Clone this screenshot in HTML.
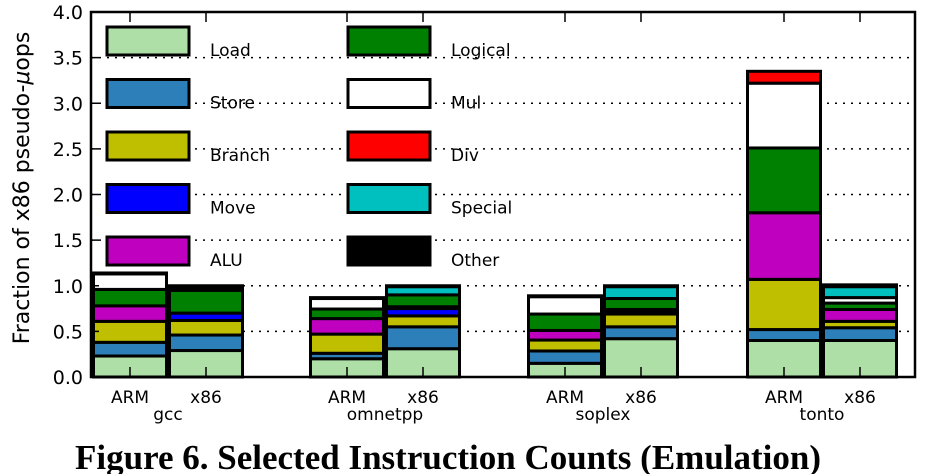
<!DOCTYPE html>
<html><head><meta charset="utf-8"><style>
html,body{margin:0;padding:0;background:#fff;width:944px;height:474px;overflow:hidden}
svg text{font-family:"DejaVu Sans","Liberation Sans",sans-serif}
</style></head><body>
<svg id="chart" width="944" height="474" xmlns="http://www.w3.org/2000/svg">
<g id="grid"></g>
<g id="bars"></g>
<g id="axes"></g>
<g id="legend"></g>
<text transform="translate(29,188) rotate(-90)" text-anchor="middle" font-size="22">Fraction of x86 pseudo-<tspan font-style="italic">μ</tspan>ops</text>
<text x="75" y="469" font-weight="bold" font-size="35" style="font-family:'Liberation Serif',serif">Figure 6. Selected Instruction Counts (Emulation)</text>
</svg>
<script>
const categories = ["gcc","omnetpp","soplex","tonto"];
const isas = ["ARM","x86"];
const seriesNames = ["Load","Store","Branch","Move","ALU","Logical","Mul","Div","Special","Other"];
const seriesColors = ["#addfa7","#2c7fb8","#bfbf00","#0000ff","#bf00bf","#008000","#ffffff","#ff0000","#00bfbf","#000000"];
const load   = [0.23,0.29, 0.20,0.31, 0.15,0.42, 0.40,0.40];
const store  = [0.15,0.17, 0.06,0.24, 0.135,0.13, 0.12,0.14];
const branch = [0.23,0.16, 0.21,0.12, 0.12,0.14, 0.55,0.07];
const move   = [0.00,0.08, 0.00,0.08, 0.00,0.02, 0.00,0.00];
const alu    = [0.17,0.00, 0.17,0.02, 0.105,0.03, 0.73,0.13];
const logical= [0.18,0.25, 0.105,0.13, 0.18,0.12, 0.71,0.07];
const mul    = [0.17,0.00, 0.115,0.00, 0.19,0.00, 0.71,0.06];
const div    = [0.00,0.00, 0.00,0.00, 0.00,0.00, 0.13,0.00];
const special= [0.00,0.00, 0.00,0.09, 0.00,0.13, 0.00,0.12];
const other  = [0.01,0.05, 0.01,0.01, 0.01,0.01, 0.00,0.02];
const yTicks = [0,0.5,1,1.5,2,2.5,3,3.5,4];
const yTickLabels = ["0.0","0.5","1.0","1.5","2.0","2.5","3.0","3.5","4.0"];
const series=[load,store,branch,move,alu,logical,mul,div,special,other];
const NS="http://www.w3.org/2000/svg";
const L=91,R=915,T=12,B=377;
function y(v){return B-(v/4)*(B-T);}
const groupStart=[92,309,527,746], barW=76;
function x(i){const g=Math.floor(i/2), k=i%2; return groupStart[g]+k*barW;}
function mk(tag,attrs,parent){const e=document.createElementNS(NS,tag);for(const k in attrs)e.setAttribute(k,attrs[k]);parent.appendChild(e);return e;}
const grid=document.getElementById('grid'),bars=document.getElementById('bars'),axes=document.getElementById('axes'),legend=document.getElementById('legend');
yTicks.forEach((t,i)=>{
  if(t>0&&t<4){const l=mk('line',{x1:L,x2:R,y1:y(t),y2:y(t),stroke:'#000','stroke-width':1.5,'stroke-dasharray':'2,6'},grid);
  
  }
  const tk=mk('line',{x1:L,x2:L+8,y1:y(t),y2:y(t),stroke:'#000','stroke-width':1.5},axes);
  
  
  const tx=mk('text',{x:L-8,y:y(t)+7,'text-anchor':'end','font-size':19},axes);
  tx.textContent=yTickLabels[i];
  
  
});
for(let i=0;i<8;i++){
  let cum=0;
  series.forEach((s,si)=>{
    const v=s[i]; if(v<=0)return;
    const r=mk('rect',{x:x(i)+1.5,y:y(cum+v),width:barW-3,height:y(cum)-y(cum+v),fill:seriesColors[si],stroke:'#000','stroke-width':3},bars);
    
    
    cum+=v;
  });
  const cx=x(i)+barW/2;
  const tb=mk('line',{x1:cx,x2:cx,y1:B,y2:B-10,stroke:'#000','stroke-width':1.5},axes);
  
  
  const tt=mk('line',{x1:cx,x2:cx,y1:T,y2:T+10,stroke:'#000','stroke-width':1.5},axes);
  
  
  const lb=mk('text',{x:cx,y:403,'text-anchor':'middle','font-size':17},axes);
  lb.textContent=isas[i%2];
  
  
}
categories.forEach((c,g)=>{
  const t=mk('text',{x:groupStart[g]+barW,y:420,'text-anchor':'middle','font-size':17},axes);
  t.textContent=c;
  
  
});
const frame=mk('rect',{x:L,y:T,width:R-L,height:B-T,fill:'none',stroke:'#000','stroke-width':2.5},axes);


seriesNames.forEach((n,si)=>{
  const col=Math.floor(si/5),row=si%5;
  const px=107+col*241,py=27+row*52.5;
  const r=mk('rect',{x:px,y:py,width:82,height:28,fill:seriesColors[si],stroke:'#000','stroke-width':3},legend);
  
  
  const t=mk('text',{x:px+103,y:py+29,'font-size':17},legend);
  t.textContent=n;
  
  
});
</script>
</body></html>
